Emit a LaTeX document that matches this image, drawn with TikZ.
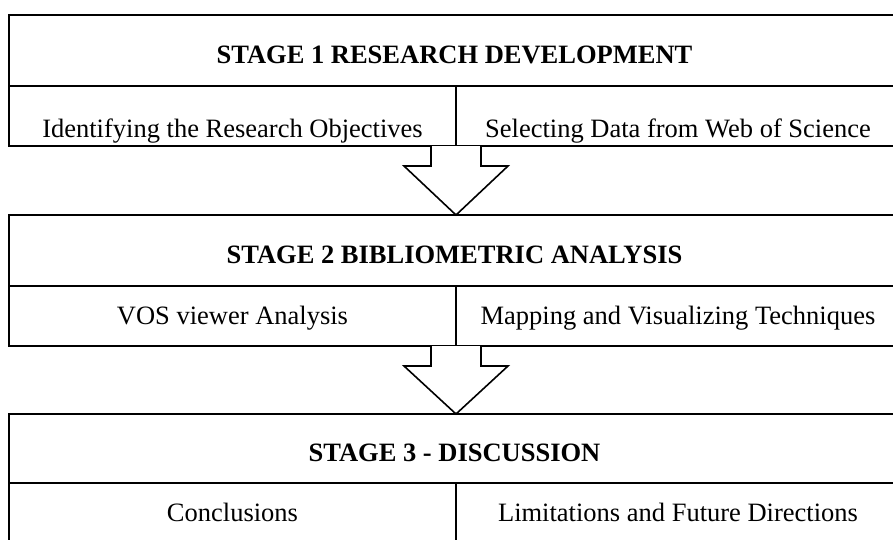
\documentclass[tikz,border=0pt]{standalone}
\usepackage{fontspec}
\setmainfont{Liberation Serif}
\usetikzlibrary{calc,positioning}

\begin{document}
\begin{tikzpicture}[x=1pt,y=-1pt,
   titlebox/.style={draw, line width=1.6pt, outer sep=0pt, minimum width=891pt, minimum height=71pt, inner sep=0pt, text height=25pt, text depth=0pt, font=\fontsize{26.5}{30}\selectfont\bfseries},
   cellbox/.style={draw, line width=1.6pt, outer sep=0pt, minimum height=60pt, inner sep=0pt, text height=17pt, text depth=0pt, font=\fontsize{26.5}{30}\selectfont},
   lowcell/.style={cellbox, text height=42pt, inner ysep=9pt},
   blockarrow/.style={draw, line width=1.6pt, fill=white, line join=miter}]
   % page of 893 x 539, right and bottom edges cut off
   \clip (0,0) rectangle (893,539);

   % Stage 1
   \node [titlebox, anchor=north west] (t1) at (9,15) {STAGE 1 RESEARCH DEVELOPMENT};
   \node [lowcell, minimum width=447pt, anchor=north west] (l1) at (t1.south west) {Identifying the Research Objectives};
   \node [lowcell, minimum width=444pt, anchor=north east] (r1) at (t1.south east) {Selecting Data from Web of Science};

   % Stage 2
   \node [titlebox, anchor=north west] (t2) at ($(l1.south west)+(0,69)$) {STAGE 2 BIBLIOMETRIC ANALYSIS};
   \node [cellbox, minimum width=447pt, anchor=north west] (l2) at (t2.south west) {VOS viewer Analysis};
   \node [cellbox, minimum width=444pt, anchor=north east] (r2) at (t2.south east) {Mapping and Visualizing Techniques};

   % Stage 3
   \node [titlebox, minimum height=69pt, anchor=north west] (t3) at ($(l2.south west)+(0,68)$) {STAGE 3 - DISCUSSION};
   \node [cellbox, minimum width=447pt, anchor=north west] (l3) at (t3.south west) {Conclusions};
   \node [cellbox, minimum width=444pt, anchor=north east] (r3) at (t3.south east) {Limitations and Future Directions};

   % Block arrows
   \coordinate (a1) at (l1.south east);
   \draw [blockarrow] ($(a1)+(-25,0)$) -- ($(a1)+(-25,20)$) -- ($(a1)+(-52,20)$) -- (a1 |- t2.north) -- ($(a1)+(52,20)$) -- ($(a1)+(25,20)$) -- ($(a1)+(25,0)$);
   \coordinate (a2) at (l2.south east);
   \draw [blockarrow] ($(a2)+(-25,0)$) -- ($(a2)+(-25,20)$) -- ($(a2)+(-52,20)$) -- (a2 |- t3.north) -- ($(a2)+(52,20)$) -- ($(a2)+(25,20)$) -- ($(a2)+(25,0)$);

\end{tikzpicture}
\end{document}
